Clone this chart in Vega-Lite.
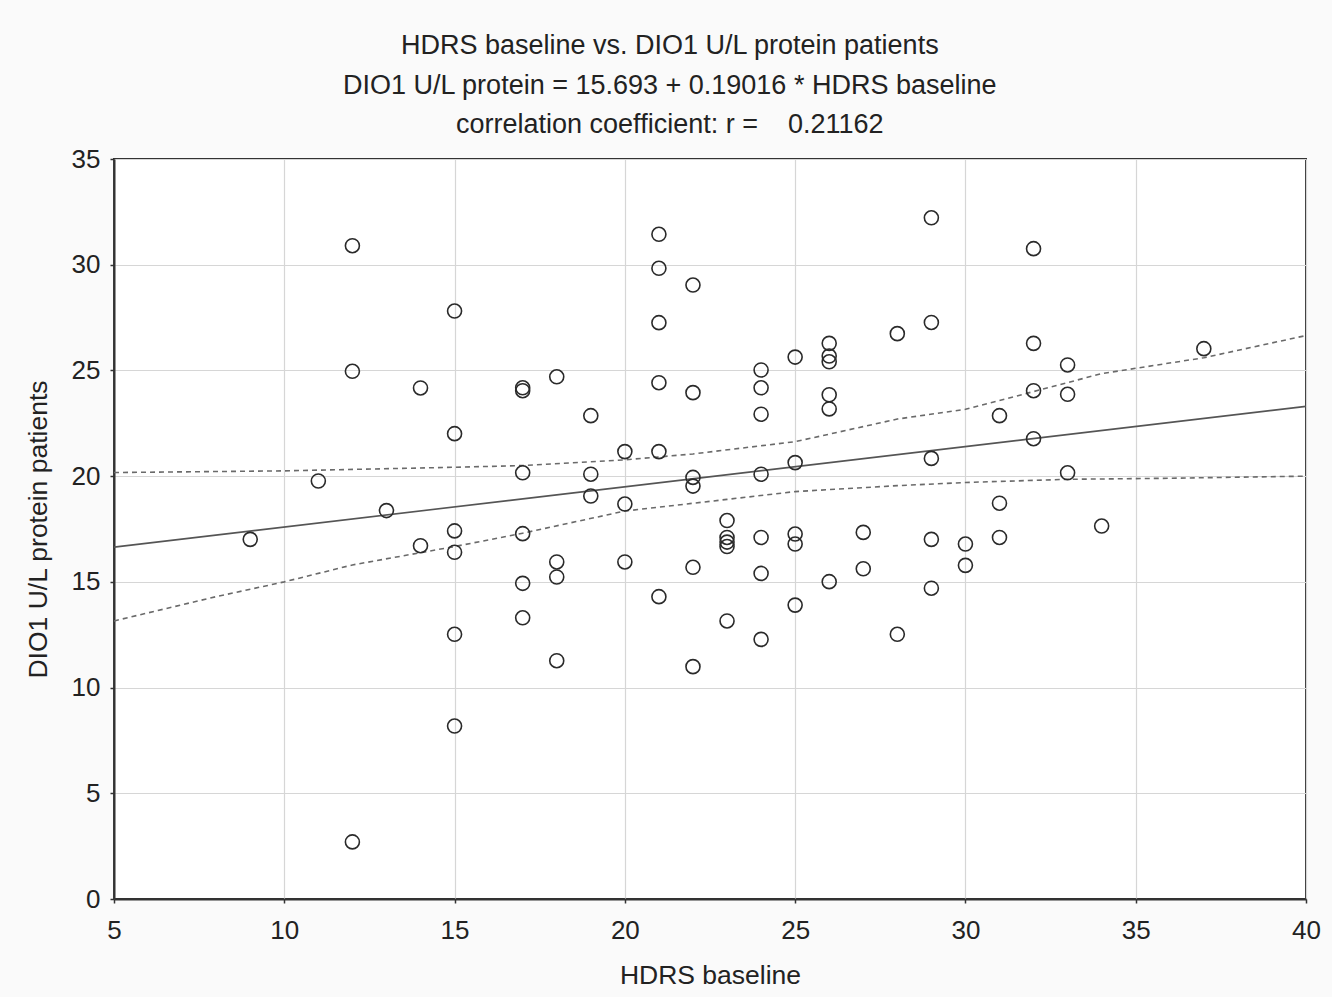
{
  "$schema": "https://vega.github.io/schema/vega-lite/v6.json",
  "width": 1192,
  "height": 740,
  "autosize": {"type": "none"},
  "padding": {"left": 114, "top": 159, "right": 26, "bottom": 98},
  "background": "#fafafa",
  "config": {
    "font": "Liberation Sans",
    "view": {"fill": "white", "stroke": "#333333", "strokeWidth": 2},
    "axis": {
      "grid": true,
      "gridColor": "#d6d6d6",
      "gridWidth": 1.2,
      "domainColor": "#333333",
      "domainWidth": 2,
      "tickColor": "#333333",
      "tickSize": 4,
      "tickWidth": 1.5,
      "labelFontSize": 26,
      "labelColor": "#222222",
      "labelFlush": false,
      "titleFontSize": 26.5,
      "titleFontWeight": "normal",
      "titleColor": "#222222",
      "labelFont": "Liberation Sans",
      "titleFont": "Liberation Sans"
    }
  },
  "title": {
    "text": [
      "HDRS baseline vs. DIO1 U/L protein patients",
      "DIO1 U/L protein = 15.693 + 0.19016 * HDRS baseline",
      "correlation coefficient: r = \u00a0\u00a0 0.21162"
    ],
    "fontSize": 27,
    "fontWeight": "normal",
    "font": "Liberation Sans",
    "color": "#222222",
    "lineHeight": 39.5,
    "anchor": "middle",
    "frame": "bounds",
    "offset": 7,
    "dx": -3
  },
  "datasets": {
    "points": [
      {"h": 9, "d": 17.01},
      {"h": 11, "d": 19.77},
      {"h": 12, "d": 30.9}, {"h": 12, "d": 24.96}, {"h": 12, "d": 2.7},
      {"h": 13, "d": 18.37},
      {"h": 14, "d": 24.17}, {"h": 14, "d": 16.71},
      {"h": 15, "d": 27.81}, {"h": 15, "d": 22.01}, {"h": 15, "d": 17.41}, {"h": 15, "d": 16.4}, {"h": 15, "d": 12.52}, {"h": 15, "d": 8.18},
      {"h": 17, "d": 24.18}, {"h": 17, "d": 24.04}, {"h": 17, "d": 20.16}, {"h": 17, "d": 17.28}, {"h": 17, "d": 14.93}, {"h": 17, "d": 13.3},
      {"h": 18, "d": 24.7}, {"h": 18, "d": 15.94}, {"h": 18, "d": 15.23}, {"h": 18, "d": 11.27},
      {"h": 19, "d": 22.86}, {"h": 19, "d": 20.09}, {"h": 19, "d": 19.06},
      {"h": 20, "d": 21.16}, {"h": 20, "d": 18.68}, {"h": 20, "d": 15.94},
      {"h": 21, "d": 31.44}, {"h": 21, "d": 29.83}, {"h": 21, "d": 27.26}, {"h": 21, "d": 24.42}, {"h": 21, "d": 21.16}, {"h": 21, "d": 14.3},
      {"h": 22, "d": 29.04}, {"h": 22, "d": 23.95}, {"h": 22, "d": 19.94}, {"h": 22, "d": 19.53}, {"h": 22, "d": 15.69}, {"h": 22, "d": 10.99},
      {"h": 23, "d": 17.9}, {"h": 23, "d": 17.1}, {"h": 23, "d": 16.88}, {"h": 23, "d": 16.67}, {"h": 23, "d": 13.15},
      {"h": 24, "d": 25.02}, {"h": 24, "d": 24.18}, {"h": 24, "d": 22.93}, {"h": 24, "d": 20.09}, {"h": 24, "d": 17.1}, {"h": 24, "d": 15.4}, {"h": 24, "d": 12.28},
      {"h": 25, "d": 25.63}, {"h": 25, "d": 20.64}, {"h": 25, "d": 17.26}, {"h": 25, "d": 16.79}, {"h": 25, "d": 13.9},
      {"h": 26, "d": 26.28}, {"h": 26, "d": 25.68}, {"h": 26, "d": 25.41}, {"h": 26, "d": 23.85}, {"h": 26, "d": 23.18}, {"h": 26, "d": 15.01},
      {"h": 27, "d": 17.34}, {"h": 27, "d": 15.62},
      {"h": 28, "d": 26.74}, {"h": 28, "d": 12.52},
      {"h": 29, "d": 32.22}, {"h": 29, "d": 27.27}, {"h": 29, "d": 20.84}, {"h": 29, "d": 17.01}, {"h": 29, "d": 14.7},
      {"h": 30, "d": 16.79}, {"h": 30, "d": 15.78},
      {"h": 31, "d": 22.86}, {"h": 31, "d": 18.72}, {"h": 31, "d": 17.1},
      {"h": 32, "d": 30.76}, {"h": 32, "d": 26.28}, {"h": 32, "d": 24.04}, {"h": 32, "d": 21.77},
      {"h": 33, "d": 25.26}, {"h": 33, "d": 23.87}, {"h": 33, "d": 20.16},
      {"h": 34, "d": 17.64},
      {"h": 37, "d": 26.03}
    ],
    "fit": [
      {"h": 5, "y": 16.644},
      {"h": 40, "y": 23.299}
    ],
    "bands": [
      {"band": "upper", "h": 5, "y": 20.17},
      {"band": "upper", "h": 10, "y": 20.25},
      {"band": "upper", "h": 15, "y": 20.42},
      {"band": "upper", "h": 17, "y": 20.5},
      {"band": "upper", "h": 20, "y": 20.77},
      {"band": "upper", "h": 22, "y": 21.05},
      {"band": "upper", "h": 25, "y": 21.63},
      {"band": "upper", "h": 28, "y": 22.7},
      {"band": "upper", "h": 30, "y": 23.16},
      {"band": "upper", "h": 32, "y": 24.0},
      {"band": "upper", "h": 34, "y": 24.85},
      {"band": "upper", "h": 37, "y": 25.6},
      {"band": "upper", "h": 40, "y": 26.65},
      {"band": "lower", "h": 5, "y": 13.15},
      {"band": "lower", "h": 8, "y": 14.3},
      {"band": "lower", "h": 10, "y": 15.0},
      {"band": "lower", "h": 12, "y": 15.8},
      {"band": "lower", "h": 15, "y": 16.67},
      {"band": "lower", "h": 17, "y": 17.3},
      {"band": "lower", "h": 20, "y": 18.35},
      {"band": "lower", "h": 23, "y": 18.9},
      {"band": "lower", "h": 25, "y": 19.27},
      {"band": "lower", "h": 28, "y": 19.55},
      {"band": "lower", "h": 30, "y": 19.7},
      {"band": "lower", "h": 33, "y": 19.85},
      {"band": "lower", "h": 36, "y": 19.9},
      {"band": "lower", "h": 40, "y": 20.0}
    ]
  },
  "layer": [
    {
      "data": {"name": "bands"},
      "mark": {"type": "line", "color": "#6a6a6a", "strokeWidth": 1.6, "strokeDash": [5, 4], "clip": true},
      "encoding": {
        "x": {"field": "h", "type": "quantitative", "scale": {"domain": [5, 40], "nice": false, "zero": false},
          "axis": {"values": [5, 10, 15, 20, 25, 30, 35, 40], "title": "HDRS baseline", "labelPadding": 14, "titlePadding": 19}},
        "y": {"field": "y", "type": "quantitative", "scale": {"domain": [0, 35], "nice": false, "zero": false},
          "axis": {"values": [0, 5, 10, 15, 20, 25, 30, 35], "title": "DIO1 U/L protein patients", "labelPadding": 10, "titlePadding": 19}},
        "detail": {"field": "band", "type": "nominal"}
      }
    },
    {
      "data": {"name": "fit"},
      "mark": {"type": "line", "color": "#555555", "strokeWidth": 1.6, "clip": true},
      "encoding": {
        "x": {"field": "h", "type": "quantitative"},
        "y": {"field": "y", "type": "quantitative"}
      }
    },
    {
      "data": {"name": "points"},
      "mark": {"type": "point", "shape": "circle", "filled": false, "size": 196, "stroke": "#2a2a2a", "strokeWidth": 1.6, "opacity": 1},
      "encoding": {
        "x": {"field": "h", "type": "quantitative"},
        "y": {"field": "d", "type": "quantitative"}
      }
    }
  ]
}
